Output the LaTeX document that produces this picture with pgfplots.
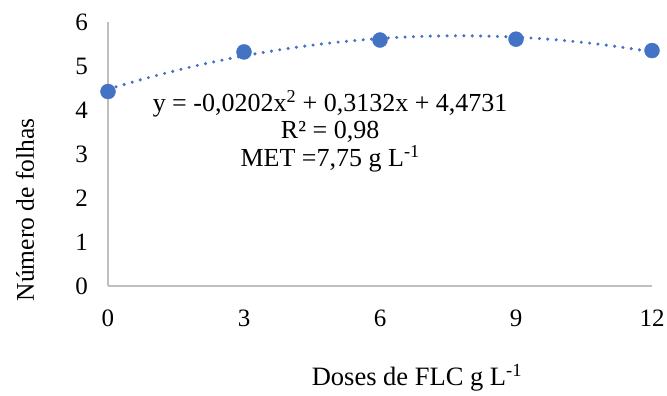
\documentclass[border=0pt]{standalone}
\usepackage{fontspec}
\setmainfont{Liberation Serif}
\usepackage{pgfplots}
\pgfplotsset{compat=1.18}
\definecolor{xlblue}{HTML}{4472C4}
\definecolor{axgray}{HTML}{BFBFBF}
\begin{document}
\begin{tikzpicture}
\begin{axis}[
  scale only axis,
  width=544pt, height=264pt,
  xmin=0, xmax=12, ymin=0, ymax=6,
  xtick={0,3,6,9,12}, ytick={0,1,2,3,4,5,6},
  axis lines*=left,
  axis line style={axgray, line width=1.2pt},
  major tick length=0pt,
  tick style={draw=none},
  /pgf/number format/assume math mode=true,
  tick label style={font=\fontsize{25}{30}\selectfont, inner sep=0pt},
  xticklabel style={anchor=center, yshift=-32pt},
  yticklabel style={anchor=east, xshift=-20pt},
  clip=false,
]
\addplot[xlblue, line width=3.4pt, dash pattern=on 0pt off 8.4pt, line cap=round, smooth]
  coordinates {(0,4.4731) (1,4.7661) (2,5.0187) (3,5.2309) (4,5.4027) (5,5.5341) (6,5.6251) (7,5.6757) (8,5.6859) (9,5.6557) (10,5.5851) (11,5.4741) (12,5.3227)};
\addplot[only marks, mark=*, mark size=7.5pt, mark options={fill=xlblue, draw=xlblue}]
  coordinates {(0,4.42) (3,5.32) (6,5.59) (9,5.61) (12,5.35)};
\node[align=center, inner sep=0pt, anchor=center, font=\fontsize{26}{27.5}\selectfont] at (axis cs:4.9,3.52)
  {y = -0,0202x\textsuperscript{2} + 0,3132x + 4,4731\\R² = 0,98\\MET =7,75 g L\textsuperscript{-1}};
\node[rotate=90, anchor=center, font=\fontsize{25.5}{30}\selectfont] at ([xshift=-83pt]rel axis cs:0,0.288) {Número de folhas};
\node[anchor=center, font=\fontsize{26.5}{30}\selectfont] at ([yshift=-92pt]rel axis cs:0.568,0) {Doses de FLC g L\textsuperscript{-1}};
\end{axis}
\pgfresetboundingbox
\useasboundingbox ([xshift=-108pt,yshift=-110pt]current axis.south west) rectangle ([xshift=15pt,yshift=22pt]current axis.north east);
\end{tikzpicture}
\end{document}
